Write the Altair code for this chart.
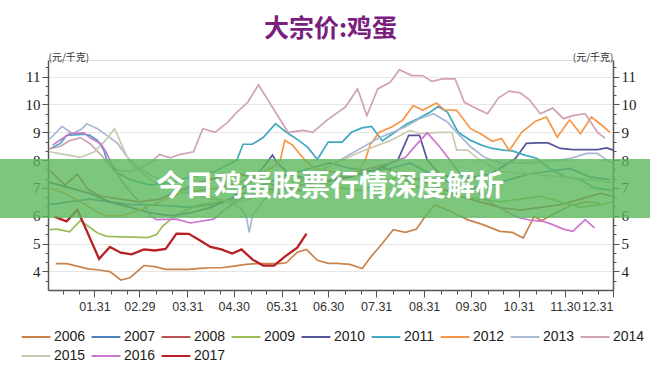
import altair as alt
import pandas as pd

years = ["2006", "2007", "2008", "2009", "2010", "2011", "2012", "2013", "2014", "2015", "2016", "2017"]
colors = ["#c8844c", "#4f81bd", "#c0504d", "#9bbb59", "#55559a", "#40a8c0",
          "#f79646", "#aab8d4", "#cfa3b4", "#c9cbb0", "#cc77cc", "#b82024"]

# day of year (0 = Jan 1) and price (yuan/kg)
d2006 = [5, 12, 20, 26, 33, 40, 47, 53, 62, 69, 76, 83, 91, 98, 105, 112, 120, 128, 135, 141,
         149, 154, 161, 167, 174, 181, 187, 195, 203, 209, 216, 223, 231, 238, 244, 250, 260, 271, 281, 292,
         300, 307, 314, 319, 328, 337, 347, 357]
v2006 = [4.28, 4.28, 4.17, 4.09, 4.05, 3.99, 3.69, 3.77, 4.21, 4.17, 4.07, 4.07, 4.07, 4.11, 4.13, 4.13, 4.19, 4.25, 4.28, 4.28,
         4.28, 4.31, 4.69, 4.79, 4.40, 4.29, 4.29, 4.25, 4.10, 4.55, 5.0, 5.5, 5.4, 5.52, 6.0, 6.39, 6.15, 5.86, 5.68, 5.44,
         5.4, 5.2, 5.97, 5.83, 6.1, 6.35, 6.5, 6.45]

d2007 = [1, 14, 27, 40, 53, 66, 79, 92, 105, 118, 130, 143, 156, 169, 182, 195, 208, 221, 234, 247,
         260, 273, 286, 298, 311, 324, 337, 350, 363]
v2007 = [6.4, 6.5, 6.6, 6.5, 6.4, 6.4, 6.35, 6.3, 6.4, 6.6, 6.9, 7.2, 7.5, 7.7, 7.9, 7.7, 7.6, 7.7, 7.9, 7.5,
         7.2, 7.0, 7.1, 7.3, 7.5, 7.6, 7.7, 7.4, 7.3]

d2008 = [1, 11, 19, 26, 34, 47, 59, 72, 85, 98, 111, 124, 137, 150, 163, 176, 189, 202, 214, 227,
         240, 253, 266, 279, 292, 305, 318, 331, 344, 357, 365]
v2008 = [7.64, 7.1, 7.5, 6.93, 6.7, 6.6, 6.5, 6.6, 6.9, 7.2, 7.4, 7.5, 7.3, 7.0, 6.9, 7.1, 7.4, 7.6, 7.8, 7.5,
         7.3, 7.0, 6.7, 6.5, 6.3, 6.2, 6.3, 6.4, 6.6, 6.8, 6.7]

d2009 = [1, 6, 14, 21, 26, 32, 38, 47, 55, 64, 70, 74, 79, 89, 98, 111, 124, 137, 150, 163,
         176, 189, 202, 214, 227, 240, 253, 266, 279, 292, 305, 318, 331, 344, 357, 365]
v2009 = [5.5, 5.52, 5.42, 5.83, 5.62, 5.38, 5.26, 5.24, 5.23, 5.21, 5.32, 5.62, 5.86, 6.2, 6.4, 6.5, 6.6, 6.8, 7.0, 7.3,
         7.2, 7.0, 6.9, 7.2, 7.4, 7.0, 6.8, 6.7, 6.6, 6.5, 6.6, 6.7, 6.5, 6.3, 6.4, 6.5]

d2010 = [1, 14, 27, 40, 53, 66, 79, 92, 105, 118, 130, 137, 142, 145, 148, 156, 176, 195, 214, 226,
         233, 240, 245, 253, 266, 286, 302, 309, 316, 323, 331, 339, 347, 355, 361, 365]
v2010 = [7.2, 7.0, 6.8, 6.5, 6.3, 6.1, 6.0, 6.1, 6.3, 6.6, 7.2, 7.6, 7.95, 8.18, 7.9, 7.5, 7.2, 7.4, 7.7, 8.0,
         8.89, 8.89, 8.0, 7.5, 7.3, 7.5, 8.06, 8.6, 8.62, 8.62, 8.42, 8.38, 8.38, 8.38, 8.44, 8.36]

d2011 = [1, 8, 12, 24, 27, 32, 36, 38, 43, 53, 66, 79, 92, 108, 122, 126, 132, 139, 147, 154,
         162, 168, 174, 181, 190, 196, 203, 209, 216, 224, 232, 239, 247, 252, 258, 265, 273, 280, 287, 294,
         300, 308, 316, 324, 334, 344, 353, 365]
v2011 = [8.4, 8.6, 8.89, 8.93, 8.89, 8.71, 8.36, 8.0, 7.6, 7.3, 7.1, 7.2, 7.4, 7.6, 8.0, 8.57, 8.57, 8.81, 9.31, 9.0,
         8.71, 8.45, 8.02, 8.65, 8.65, 9.0, 9.16, 9.21, 8.69, 9.0, 9.31, 9.49, 9.73, 9.93, 9.73, 9.0, 8.71, 8.54, 8.42, 8.36,
         8.33, 8.18, 8.06, 7.7, 7.4, 7.3, 7.0, 6.9]

d2012 = [1, 11, 21, 30, 37, 48, 59, 72, 85, 98, 111, 124, 137, 147, 150, 153, 158, 165, 172, 182,
         192, 200, 205, 208, 214, 222, 229, 236, 242, 251, 256, 264, 273, 280, 287, 293, 298, 306, 315, 322,
         329, 337, 344, 351, 359, 363]
v2012 = [7.0, 6.8, 6.5, 6.2, 6.0, 6.0, 6.2, 6.5, 6.8, 6.9, 7.0, 7.2, 7.5, 7.8, 8.0, 8.71, 8.54, 8.06, 7.7, 7.6,
         7.5, 7.6, 8.0, 8.54, 9.0, 9.19, 9.43, 9.96, 9.79, 10.05, 9.81, 9.79, 9.13, 8.93, 8.68, 8.78, 8.35, 9.0, 9.4, 9.55,
         8.83, 9.45, 8.95, 9.55, 9.2, 9.0]

d2013 = [1, 9, 16, 22, 25, 32, 38, 45, 51, 59, 72, 85, 98, 111, 124, 128, 130, 132, 140, 156,
         176, 195, 214, 231, 240, 249, 258, 264, 273, 282, 292, 311, 331, 340, 348, 355, 361, 365]
v2013 = [8.75, 9.21, 8.95, 9.13, 9.31, 9.13, 8.89, 8.6, 8.12, 7.7, 7.3, 7.0, 6.8, 6.6, 6.3, 6.0, 5.4, 6.0, 6.6, 7.0,
         7.6, 8.2, 8.8, 9.2, 9.49, 9.67, 9.37, 9.0, 8.48, 8.1, 7.9, 7.9, 8.0, 8.1, 8.24, 8.24, 8.0, 7.9]

d2014 = [1, 8, 14, 21, 27, 34, 40, 47, 53, 59, 66, 72, 79, 85, 94, 100, 108, 116, 122, 129,
         136, 145, 155, 165, 171, 180, 189, 192, 200, 206, 213, 221, 227, 235, 242, 248, 255, 263, 269, 277,
         284, 291, 298, 305, 311, 318, 326, 333, 339, 347, 355, 360]
v2014 = [8.4, 8.5, 8.7, 8.8, 8.6, 8.2, 7.8, 7.6, 7.6, 7.7, 7.9, 8.2, 8.08, 8.2, 8.3, 9.13, 9.0, 9.36, 9.72, 10.08,
         10.71, 9.9, 9.0, 9.07, 9.0, 9.43, 9.79, 9.9, 10.56, 9.6, 10.56, 10.8, 11.25, 11.04, 11.04, 10.83, 10.92, 10.92, 10.08, 9.85,
         9.67, 10.24, 10.48, 10.42, 10.17, 9.67, 9.87, 9.49, 9.6, 9.67, 9.0, 8.78]

d2015 = [1, 11, 21, 30, 37, 43, 48, 53, 66, 85, 105, 124, 143, 163, 182, 202, 221, 234, 240, 253,
         261, 264, 271, 279, 292, 311, 331, 350, 365]
v2015 = [8.3, 8.2, 8.1, 8.3, 8.7, 9.13, 8.5, 7.9, 7.3, 6.9, 6.6, 6.5, 6.8, 7.3, 7.8, 8.3, 8.7, 9.07, 8.95, 9.0,
         9.0, 8.36, 8.36, 8.0, 7.6, 7.5, 7.4, 7.3, 7.2]

d2016 = [3, 14, 23, 28, 34, 38, 41, 47, 54, 63, 66, 70, 83, 92, 107, 114, 124, 137, 150, 163,
         182, 202, 221, 231, 236, 245, 253, 258, 265, 273, 282, 292, 298, 305, 313, 320, 326, 333, 339, 347, 353]
v2016 = [8.54, 8.95, 8.98, 8.78, 8.6, 8.24, 7.88, 7.3, 6.8, 6.3, 6.0, 5.86, 5.88, 5.74, 5.88, 6.2, 6.6, 6.9, 7.0, 7.1,
         7.3, 7.6, 7.9, 8.1, 8.43, 8.98, 8.48, 8.12, 7.6, 7.1, 6.6, 6.3, 6.1, 5.92, 5.83, 5.8, 5.68, 5.52, 5.44, 5.86, 5.56]

d2017 = [4, 12, 19, 33, 40, 47, 54, 62, 69, 76, 83, 91, 98, 105, 112, 119, 125, 132, 139, 146, 153, 161, 167]
v2017 = [5.97, 5.80, 6.21, 4.45, 4.88, 4.67, 4.61, 4.79, 4.75, 4.81, 5.36, 5.35, 5.12, 4.88, 4.79, 4.64, 4.79, 4.43,
         4.21, 4.21, 4.53, 4.85, 5.36]

month_start = [0, 31, 60, 91, 121, 152, 182, 213, 244, 274, 305, 335]
month_end = [30, 59, 90, 120, 151, 181, 212, 243, 273, 304, 334, 365]
month_labels = ["01.31", "02.29", "03.31", "04.30", "05.31", "06.30",
                "07.31", "08.31", "09.30", "10.31", "11.30", "12.31"]

title_text = "大宗价:鸡蛋"
unit_text = "(元/千克)"
banner_text = "今日鸡蛋股票行情深度解析"

series = {
    "2006": (d2006, v2006), "2007": (d2007, v2007), "2008": (d2008, v2008),
    "2009": (d2009, v2009), "2010": (d2010, v2010), "2011": (d2011, v2011),
    "2012": (d2012, v2012), "2013": (d2013, v2013), "2014": (d2014, v2014),
    "2015": (d2015, v2015), "2016": (d2016, v2016), "2017": (d2017, v2017),
}
rows = []
for yr, (ds, vs) in series.items():
    for d, v in zip(ds, vs):
        rows.append({"year": yr, "day": d, "price": v})
df = pd.DataFrame(rows)

# axis tick values
x_ticks = sorted(set(month_end + [s + 10 for s in month_start] + [s + 20 for s in month_start]))
x_ticks = [t for t in x_ticks if t <= 365]
major_list = "[" + ",".join(str(m) for m in month_end) + "]"
label_expr = ""
for m, lab in zip(month_end, month_labels):
    label_expr += f"datum.value == {m} ? '{lab}' : "
label_expr += "''"

y_ticks = [round(3 + k / 3, 4) for k in range(2, 26)]
is_int = "abs(datum.value - round(datum.value)) < 0.01"

x_axis = alt.Axis(
    values=x_ticks, labelExpr=label_expr, title=None, grid=False, labelOverlap=False,
    tickSize={"condition": {"test": f"indexof({major_list}, datum.value) >= 0", "value": 7}, "value": 4},
    labelAlign={"condition": {"test": "datum.value >= 365", "value": "right"}, "value": "center"},
    domainColor="#555", domainWidth=1.5, tickColor="#555", tickWidth=1,
    labelFont="Liberation Sans", labelFontSize=12.5, labelColor="#333", labelPadding=3,
)

def y_axis(orient, align):
    return alt.Axis(
        orient=orient, values=y_ticks, labelOverlap=False,
        labelExpr=f"{is_int} ? format(datum.value, 'd') : ''",
        tickSize={"condition": {"test": is_int, "value": 6}, "value": 3},
        grid=(orient == "left"), gridColor="#e6e6e6", gridWidth=1,
        gridOpacity={"condition": {"test": is_int, "value": 1}, "value": 0},
        domainColor="#555", domainWidth=1.5, tickColor="#555",
        labelFont="Liberation Serif", labelFontSize=15, labelColor="#222", labelPadding=2,
        title=unit_text, titleAngle=0, titleAlign=align, titleBaseline="bottom",
        titleX=0, titleY=2, titleFont="Noto Sans CJK SC", titleFontSize=10,
        titleFontWeight="normal", titleColor="#333",
    )

x_scale = alt.Scale(domain=[0, 365], nice=False, zero=False)
y_scale = alt.Scale(domain=[3.33, 11.6], nice=False, zero=False)

legend = alt.Legend(
    orient="none", legendX=-27, legendY=267, direction="horizontal", columns=9, title=None,
    symbolType="M-1.6,0H1.6", symbolSize=324, symbolStrokeWidth=2, symbolOffset=5,
    symbolFillColor="transparent",
    labelFont="Liberation Sans", labelFontSize=14, labelColor="#222", labelOffset=8,
    columnPadding=1, rowPadding=2,
)

base = alt.Chart(df)
lines = base.mark_line(interpolate="linear").encode(
    x=alt.X("day:Q", scale=x_scale, axis=x_axis),
    y=alt.Y("price:Q", scale=y_scale, axis=y_axis("left", "left")),
    color=alt.Color("year:N", scale=alt.Scale(domain=years, range=colors), legend=legend),
    strokeWidth=alt.condition(alt.datum.year == "2017", alt.value(2.3), alt.value(1.7)),
)
right = base.mark_line(opacity=0).encode(
    x=alt.X("day:Q", scale=x_scale, axis=x_axis),
    y=alt.Y("price:Q", scale=y_scale, axis=y_axis("right", "right")),
    detail="year:N",
)

ov = alt.Chart(pd.DataFrame({"t": [banner_text]}))
banner = ov.mark_rect(color="#5cb85c", opacity=0.8).encode(
    x=alt.value(-48), x2=alt.value(602), y=alt.value(99), y2=alt.value(158)
)
banner_label = ov.mark_text(font="Noto Sans CJK SC", fontSize=29, fontWeight="bold",
                            color="white", align="center", baseline="middle").encode(
    x=alt.value(282), y=alt.value(127), text="t:N"
)

chart = alt.layer(lines, right, banner, banner_label).resolve_axis(y="independent").properties(
    width=565, height=230,
    autosize=alt.AutoSizeParams(type="none"),
    padding={"left": 48, "top": 60, "right": 37, "bottom": 87},
    title=alt.TitleParams(title_text, font="Noto Sans CJK SC", fontSize=25, fontWeight="bold",
                          color="#7a1f7e", anchor="middle", frame="group", offset=10),
).configure_view(stroke=None).configure(background="white")

chart.save("out.html", embed_options={"renderer": "svg", "actions": False})
